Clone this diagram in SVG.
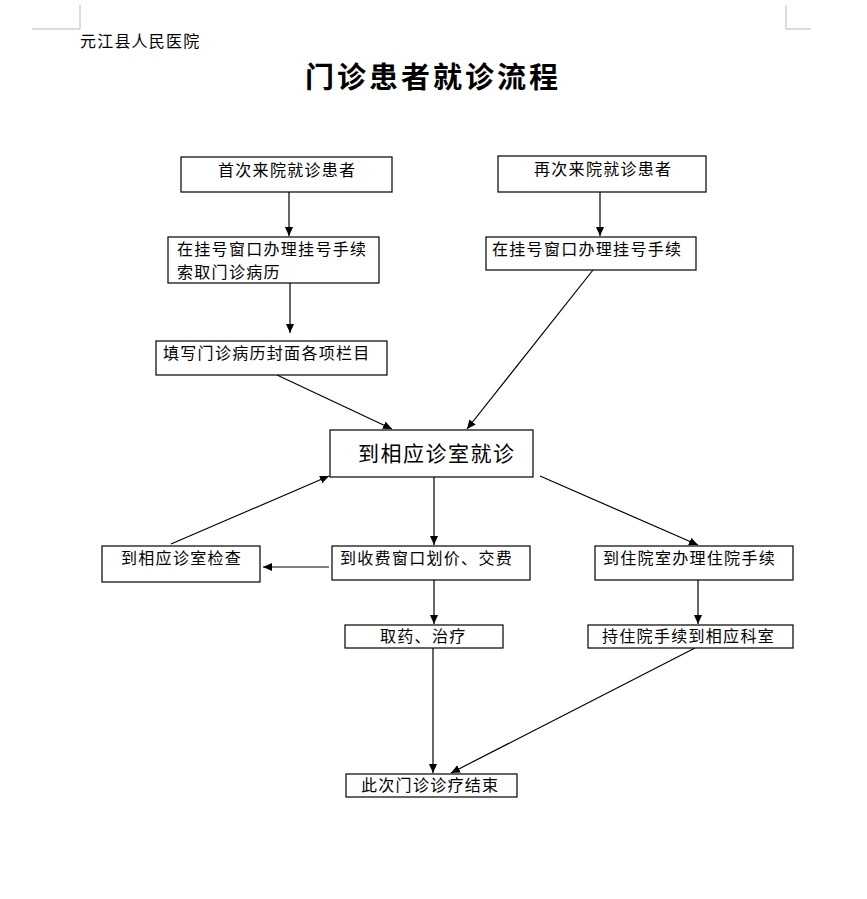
<svg xmlns="http://www.w3.org/2000/svg" width="867" height="899" viewBox="0 0 867 899">
<style>
.box{fill:#fff;stroke:#000;stroke-width:1.2}
.t{font-family:"Liberation Serif","Noto Sans CJK SC",serif;font-size:16px;letter-spacing:1.3px;fill:#000}
.c{stroke:#000;stroke-width:1.2;fill:none}
.mark{stroke:#bbb;stroke-width:1;fill:none}
</style>
<defs>
<marker id="ah" markerWidth="10" markerHeight="10" refX="9" refY="5" orient="auto" markerUnits="userSpaceOnUse">
<path d="M0,1 L9,5 L0,9 z" fill="#000"/>
</marker>
</defs>
<rect width="867" height="899" fill="#fff"/>
<path class="mark" d="M80,5 V29 H32 M786,5 V29 H811"/>
<text x="80" y="47" class="t" style="letter-spacing:1.2px">元江县人民医院</text>
<text x="433" y="88" text-anchor="middle" style="font-family:'Noto Sans CJK SC',sans-serif;font-size:29px;font-weight:bold;letter-spacing:3px">门诊患者就诊流程</text>

<g id="connectors">
<line class="c" x1="289" y1="192" x2="289" y2="236" marker-end="url(#ah)"/>
<line class="c" x1="600" y1="192" x2="600" y2="236" marker-end="url(#ah)"/>
<line class="c" x1="290" y1="283" x2="290" y2="333" marker-end="url(#ah)"/>
<line class="c" x1="277" y1="375" x2="392" y2="429" marker-end="url(#ah)"/>
<line class="c" x1="593" y1="270" x2="467" y2="429" marker-end="url(#ah)"/>
<line class="c" x1="434" y1="477" x2="434" y2="545" marker-end="url(#ah)"/>
<line class="c" x1="540" y1="476" x2="698" y2="545" marker-end="url(#ah)"/>
<line class="c" x1="329" y1="567" x2="263" y2="567" marker-end="url(#ah)"/>
<line class="c" x1="171" y1="544" x2="329" y2="476" marker-end="url(#ah)"/>
<line class="c" x1="434" y1="580" x2="434" y2="624" marker-end="url(#ah)"/>
<line class="c" x1="698" y1="580" x2="698" y2="624" marker-end="url(#ah)"/>
<line class="c" x1="433" y1="648" x2="433" y2="773" marker-end="url(#ah)"/>
<line class="c" x1="695" y1="648" x2="451" y2="773" marker-end="url(#ah)"/>
</g>

<g id="n1"><rect class="box" x="181" y="157" width="211" height="35"/><text class="t" x="218" y="176">首次来院就诊患者</text></g>
<g id="n2"><rect class="box" x="498" y="156" width="208" height="36"/><text class="t" x="534" y="175">再次来院就诊患者</text></g>
<g id="n3"><rect class="box" x="168" y="237" width="211" height="46"/><text class="t" x="177" y="255">在挂号窗口办理挂号手续</text><text class="t" x="177" y="278">索取门诊病历</text></g>
<g id="n4"><rect class="box" x="486" y="237" width="210" height="33"/><text class="t" x="492" y="255">在挂号窗口办理挂号手续</text></g>
<g id="n5"><rect class="box" x="156" y="341" width="231" height="34"/><text class="t" x="163" y="359">填写门诊病历封面各项栏目</text></g>
<g id="n6"><rect class="box" x="330" y="430" width="203" height="47"/><text class="t" x="358" y="461" style="font-size:21px;letter-spacing:1.5px">到相应诊室就诊</text></g>
<g id="n7"><rect class="box" x="102" y="546" width="158" height="36"/><text class="t" x="121" y="564">到相应诊室检查</text></g>
<g id="n8"><rect class="box" x="332" y="546" width="198" height="34"/><text class="t" x="340" y="564">到收费窗口划价、交费</text></g>
<g id="n9"><rect class="box" x="595" y="546" width="198" height="34"/><text class="t" x="603" y="564">到住院室办理住院手续</text></g>
<g id="n10"><rect class="box" x="345" y="625" width="158" height="23"/><text class="t" x="380" y="642">取药、治疗</text></g>
<g id="n11"><rect class="box" x="588" y="625" width="205" height="23"/><text class="t" x="602" y="642">持住院手续到相应科室</text></g>
<g id="n12"><rect class="box" x="346" y="774" width="171" height="23"/><text class="t" x="361" y="791">此次门诊诊疗结束</text></g>
</svg>
